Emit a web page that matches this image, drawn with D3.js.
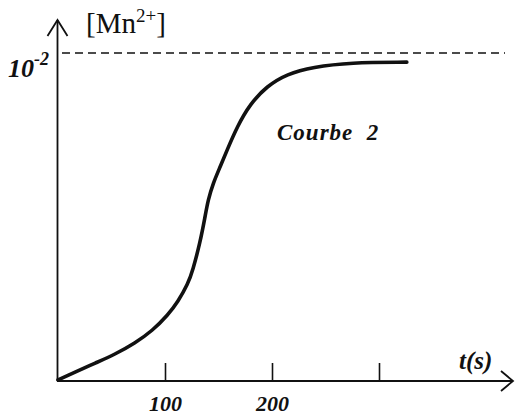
<!DOCTYPE html>
<html>
<head>
<meta charset="utf-8">
<script src="https://cdn.jsdelivr.net/npm/d3@7"></script>
<style>
  html, body { margin: 0; padding: 0; background: #fff; }
  .lbl { font-family: "Liberation Serif", "DejaVu Serif", serif; fill: #111; }
</style>
</head>
<body>
<div id="chart"></div>
<script>
// Courbe 2: [Mn2+] (units of 1e-3 mol/L) vs t (s)
const times  = [0, 16, 35, 53, 72, 88, 103, 112, 121.5, 126, 132.7, 137.4, 140.2, 145, 151.4, 158, 167.3, 179.4, 195.3, 214, 238, 273, 326];
const concs  = [0, 0.24, 0.52, 0.78, 1.13, 1.5, 2.0, 2.39, 2.94, 3.36, 4.19, 4.98, 5.5, 6.02, 6.51, 7.03, 7.74, 8.44, 8.99, 9.36, 9.57, 9.71, 9.72];
const xTicks = [100, 200, 300];
const xTickLabels = ["100", "200", ""];
const cMax = 10;   // 10^-2 mol/L asymptote

const width = 515, height = 416;
const svg = d3.select("#chart").append("svg")
  .attr("width", width).attr("height", height);

const x = d3.scaleLinear().domain([0, 300]).range([58, 379]);
const y = d3.scaleLinear().domain([0, cMax]).range([380, 53]);

const ink = "#111";

// asymptote (dashed)
svg.append("line")
  .attr("x1", 62).attr("x2", 505)
  .attr("y1", y(cMax)).attr("y2", y(cMax))
  .style("stroke", ink).style("stroke-width", 1.6)
  .style("stroke-dasharray", "8,5");

// axes lines
svg.append("line")
  .attr("x1", 57.5).attr("x2", 57.5).attr("y1", 381).attr("y2", 20)
  .style("stroke", ink).style("stroke-width", 1.8);
svg.append("line")
  .attr("x1", 57).attr("x2", 513).attr("y1", 381).attr("y2", 381)
  .style("stroke", ink).style("stroke-width", 1.8);

// arrow heads
svg.append("path")
  .attr("d", "M47.5,36 L57.5,20 L67.5,36")
  .style("fill", "none").style("stroke", ink).style("stroke-width", 1.8);
svg.append("path")
  .attr("d", "M501,371 L513,381 L501,391")
  .style("fill", "none").style("stroke", ink).style("stroke-width", 1.8);

// x ticks (drawn upward from the axis)
const xAxis = svg.append("g")
  .attr("transform", "translate(0,381)")
  .call(d3.axisBottom(x).tickValues(xTicks).tickSize(-18)
    .tickFormat((d, i) => xTickLabels[i]));
xAxis.select(".domain").remove();
xAxis.selectAll(".tick line")
  .style("stroke", ink).style("stroke-width", 1.6);
xAxis.selectAll(".tick text")
  .attr("class", "lbl")
  .attr("y", 14)
  .style("font-size", "22px")
  .style("font-weight", "bold")
  .style("font-style", "italic");

// curve
const line = d3.line()
  .x((d, i) => x(times[i]))
  .y(d => y(d))
  .curve(d3.curveBasis);
svg.append("path")
  .datum(concs)
  .attr("d", line)
  .style("fill", "none")
  .style("stroke", ink)
  .style("stroke-width", 3.6)
  .style("stroke-linecap", "round");

// labels
const yl = svg.append("text").attr("class", "lbl")
  .attr("x", 86).attr("y", 33)
  .style("font-size", "29px");
yl.append("tspan").text("[Mn");
yl.append("tspan").attr("dy", -11).style("font-size", "19px").text("2+");
yl.append("tspan").attr("dy", 11).text("]");

const ten = svg.append("text").attr("class", "lbl")
  .attr("x", 8).attr("y", 77)
  .style("font-size", "26px").style("font-weight", "bold").style("font-style", "italic");
ten.append("tspan").text("10");
ten.append("tspan").attr("dy", -12).style("font-size", "18px").text("-2");

svg.append("text").attr("class", "lbl")
  .attr("x", 459).attr("y", 369)
  .style("font-size", "25px").style("font-weight", "bold").style("font-style", "italic")
  .text("t(s)");

svg.append("text").attr("class", "lbl")
  .attr("x", 277).attr("y", 140)
  .style("font-size", "23px").style("font-weight", "bold").style("font-style", "italic")
  .style("letter-spacing", "1px")
  .attr("xml:space", "preserve")
  .text("Courbe  2");
</script>
</body>
</html>
